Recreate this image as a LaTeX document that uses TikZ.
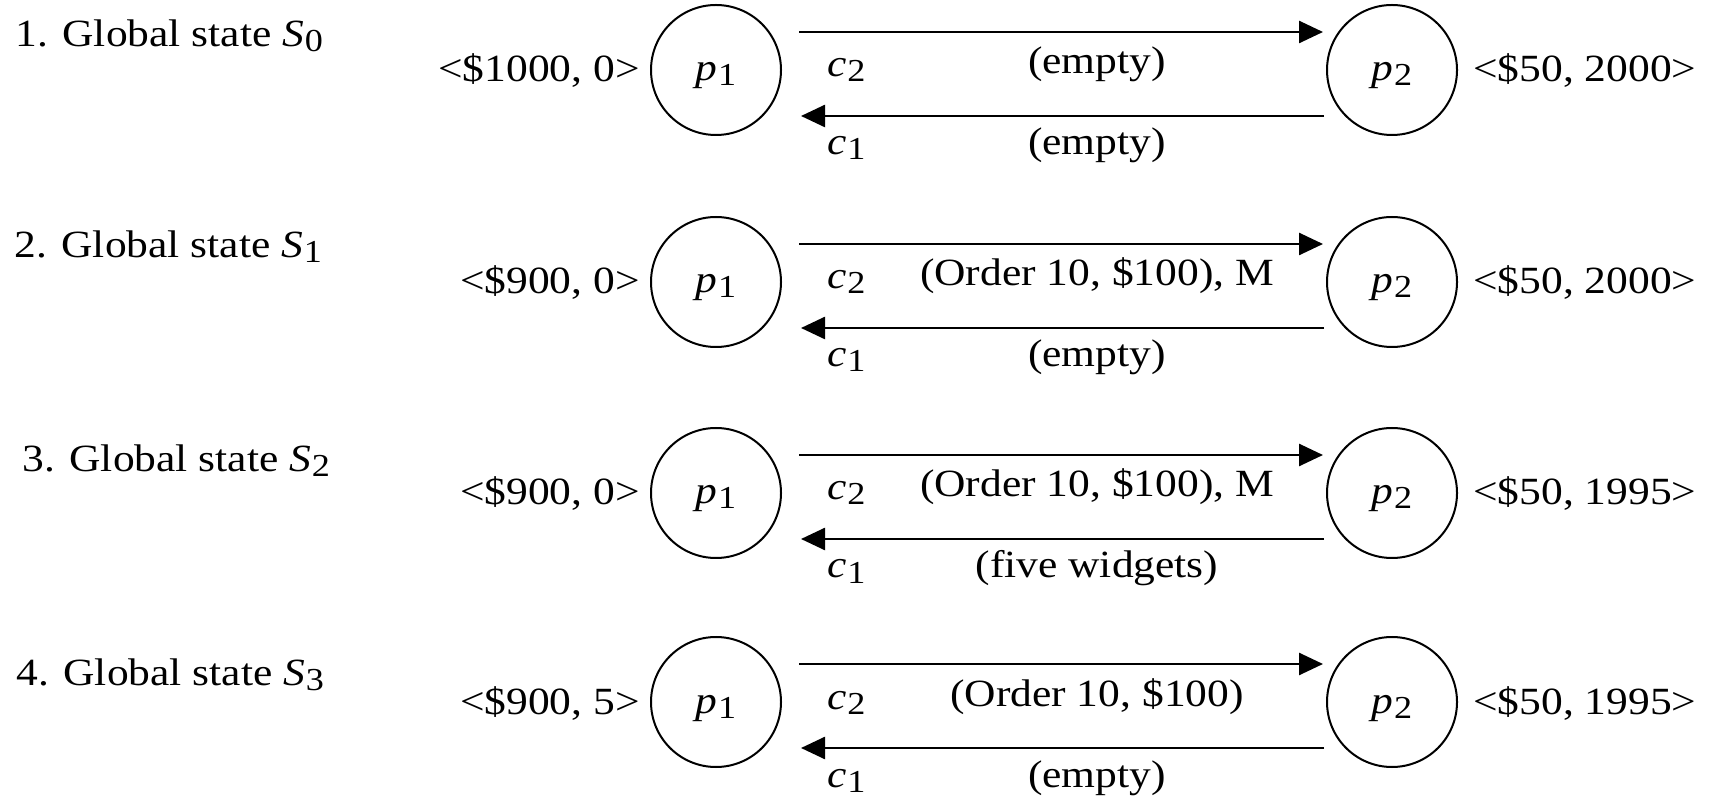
\documentclass[tikz,border=0pt]{standalone}
\usepackage{fontspec}
\setmainfont{Liberation Serif}[FakeStretch=1.13]
\usetikzlibrary{arrows.meta}
\newcommand\ssub[2]{\textit{#1}\kern0.3pt\raisebox{-2.5pt}{\fontsize{16pt}{16pt}\selectfont #2}}
% #1 row id, #2 centre y, #3 label position, #4 number, #5 S index,
% #6 left value, #7 right value, #8 upper message, #9 lower message
\newcommand\staterow[9]{%
  \node[anchor=base west] (lab#1) at (#3) {#4. Global state \ssub{S}{#5}};
  \node[proc] (P#1) at (716,#2) {\ssub{p}{1}};
  \node[proc] (Q#1) at (1392,#2) {\ssub{p}{2}};
  \node[anchor=base east] (lv#1) at (640,#2+12) {#6};
  \node[anchor=base west] (rv#1) at (1473,#2+12) {#7};
  \node[anchor=base west] (cu#1) at (827,#2+7) {\ssub{c}{2}};
  \node[anchor=base west] (cd#1) at (827,#2+85) {\ssub{c}{1}};
  \node[anchor=base] (mu#1) at (1097,#2+4) {#8};
  \node[anchor=base] (md#1) at (1097,#2+85) {#9};
  \draw[msg] ([xshift=8.5pt,yshift=19pt]P#1.east) -- ([xshift=-1.5pt,yshift=19pt]Q#1.west);
  \draw[msg] ([xshift=-1pt,yshift=-23pt]Q#1.west) -- ([xshift=9.5pt,yshift=-23pt]P#1.east);
}
\begin{document}
\begin{tikzpicture}[x=0.5pt,y=-0.5pt,
  every node/.style={font=\fontsize{19.25pt}{23pt}\selectfont, inner sep=0pt},
  proc/.style={circle, draw, line width=1pt, minimum size=65pt, text height=15pt, text depth=4pt},
  msg/.style={line width=1.3pt, -{Triangle[length=12pt,width=11pt]}}]
\useasboundingbox (0,0) rectangle (1713,801);
\staterow{A}{70}{15,47}{1}{0}{<\$1000, 0>}{<\$50, 2000>}{(empty)}{(empty)}
\staterow{B}{282}{14,258}{2}{1}{<\$900, 0>}{<\$50, 2000>}{(Order 10, \$100), M}{(empty)}
\staterow{C}{493}{22,472}{3}{2}{<\$900, 0>}{<\$50, 1995>}{(Order 10, \$100), M}{(five widgets)}
\staterow{D}{702}{16,685}{4}{3}{<\$900, 5>}{<\$50, 1995>}{(Order 10, \$100)}{(empty)}
\end{tikzpicture}
\end{document}
